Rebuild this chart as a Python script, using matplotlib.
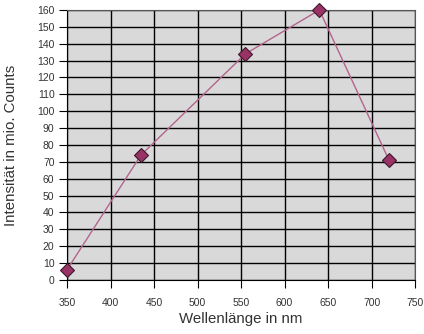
import matplotlib
matplotlib.use("Agg")
import matplotlib.pyplot as plt

# measured points
wavelength = [350, 435, 555, 640, 720]
intensity = [6, 74, 134, 160, 71]

x_ticks = list(range(350, 751, 50))
y_ticks = list(range(0, 161, 10))

plt.rcParams['font.family'] = ['Liberation Sans', 'DejaVu Sans']

fig = plt.figure(figsize=(4.24, 3.34), dpi=100)
ax = fig.add_axes([0.158, 0.162, 0.821, 0.808])
ax.set_facecolor('#d9d9d9')

ax.plot(wavelength, intensity, color='#b4648c', lw=1.0, zorder=3,
        marker='D', ms=6.8, mfc='#993366', mec='#3a1a2a', mew=0.8,
        clip_on=False)

ax.set_xlim(350, 750)
ax.set_ylim(0, 160)
ax.set_xticks(x_ticks)
ax.set_yticks(y_ticks)
ax.grid(True, color='black', lw=1.0)
ax.set_axisbelow(True)

for s in ax.spines.values():
    s.set_color('#555555')
    s.set_linewidth(0.8)
ax.spines['left'].set_color('black')
ax.spines['bottom'].set_color('black')

ax.tick_params(axis='both', direction='out', length=6, width=0.8,
               labelsize=7.5, labelcolor='#333333', color='black', pad=3)
ax.tick_params(axis='x', pad=7)

ax.set_xlabel('Wellenlänge in nm', fontsize=10.8, color='#333333', labelpad=3)
ax.set_ylabel('Intensität in mio. Counts', fontsize=10.8, color='#333333',
              labelpad=14)

fig.savefig('out.png', dpi=100)
